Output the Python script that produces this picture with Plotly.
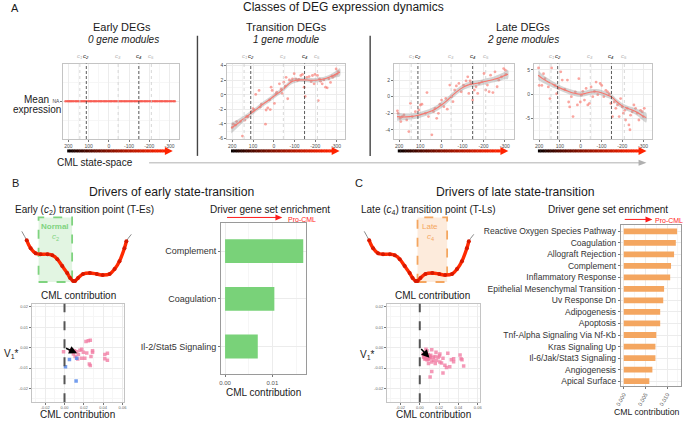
import plotly.graph_objects as go

W, H = 685, 422
FONT = "Liberation Sans, Arial, Helvetica, sans-serif"


def fx(px):
    return px / W


def fy(py):
    return 1 - py / H


# ---------------- Panel A data ----------------
a_xticks = [200, 100, 0, -100, -200, -300]
a_xtick_text = ["200", "100", "0", "-100", "-200", "-300"]
c_pos = [143, 111, -46, -148, -210]
c_names = ["c<sub>1</sub>", "c<sub>2</sub>", "c<sub>3</sub>", "c<sub>4</sub>", "c<sub>5</sub>"]
c_major = [False, True, False, True, False]

early_x = [214, 205, 197, 190, 183, 175, 165, 158, 150, 140, 133, 125, 118, 110, 100, 92, 85, 75,
           68, 60, 50, 42, 35, 25, 18, 10, 0, -8, -15, -25, -32, -40, -50, -58, -65, -75, -82,
           -90, -100, -108, -115, -125, -132, -140, -150, -158, -165, -175, -182, -190, -200,
           -208, -215, -225, -232, -240, -250, -258, -265, -275, -282, -290, -300, -308, -318, -326]
early_y = [0] * len(early_x)

trans_x = [200, 195, 179, 160, 151, 140, 124, 108, 100, 87, 71, 65, 40, 37, 29, 17, 13, 8, -3, -14,
           -27, -35, -40, -48, -59, -67, -75, -90, -98, -106, -114, -130, -138, -146, -151, -159,
           -170, -186, -194, -198, -210, -214, -225, -233, -241, -249, -257, -265, -273, -284,
           -294, -300, -305, 185, 130, 95, 60, 20, -10, -55, -85, -120, -180, -220, -280, -310]
trans_y = [-4.5, -4.05, -3.7, -3.7, -5.7, -3.5, -3.05, -2.3, -1.9, 0.05, 0.6, -1.7, -4.05, -2.1,
           -1.8, -2.05, 1.05, 0.6, -1.2, 0.36, 1.5, 0.8, 0.2, 1.73, 2.4, -0.55, 2.05, 2.2, 2.9,
           2.2, 1.95, 2.65, 2.8, 1.05, -0.23, 2.4, 2.5, 2.65, 1.5, 2.8, 2.65, -0.8, 1.85, 1.5,
           2.05, 1.05, 0.95, 2.2, 1.7, 2.4, 2.65, 3.55, 2.85, -4.2, -3.0, -2.1, -1.3, -0.7, 0.1,
           1.2, 1.9, 2.1, 1.8, 2.2, 2.6, 3.2]
trans_fit_x = [205, 175, 150, 125, 100, 75, 50, 25, 0, -25, -50, -70, -90, -110, -130, -150, -175,
               -200, -225, -250, -275, -300, -318]
trans_fit_y = [-4.6, -4.0, -3.4, -2.9, -2.35, -1.8, -1.25, -0.75, -0.2, 0.3, 0.9, 1.45, 1.85, 2.0,
               2.05, 2.05, 2.0, 2.0, 2.1, 2.25, 2.5, 2.85, 3.1]
trans_fit_se = [0.75, 0.55, 0.45, 0.4, 0.35, 0.35, 0.35, 0.35, 0.35, 0.35, 0.35, 0.35, 0.35, 0.3,
                0.3, 0.3, 0.3, 0.3, 0.3, 0.3, 0.35, 0.45, 0.55]

late1_x = [208, 205, 195, 192, 185, 177, 164, 154, 146, 138, 123, 107, 99, 92, 76, 68, 61, 45, 37,
           30, 22, 14, 7, -1, -12, -21, -28, -40, -48, -55, -63, -71, -83, -94, -105, -117, -125,
           -130, -136, -140, -148, -156, -164, -172, -179, -192, -202, -210, -218, -226, -233,
           -244, -254, -264, -272, -285, -295, -303, -306]
late1_y = [-1.7, -2.0, -2.6, -3.0, -2.4, -2.2, -2.8, -4.2, -0.8, -2.4, -1.8, -1.6, -1.0, -0.9,
           -2.0, 0.5, -2.4, -4.6, -1.8, -1.4, -2.6, -2.0, -0.9, -0.4, -1.2, -0.2, -1.5, 1.4, 0.0,
           -0.6, 0.8, 1.3, 1.6, 0.6, 1.4, 1.9, 2.4, 0.4, 1.9, 1.6, -0.4, 0.8, 1.2, 0.4, 1.6, 1.8,
           2.8, 0.8, 1.4, 0.6, 2.6, 0.5, 3.0, 1.2, 2.0, 2.4, 3.4, 3.2, 2.7]
late1_fit_x = [210, 180, 150, 120, 90, 60, 30, 0, -25, -50, -75, -100, -125, -150, -175, -200,
               -225, -250, -275, -300, -315]
late1_fit_y = [-2.4, -2.45, -2.4, -2.3, -2.1, -1.85, -1.5, -1.0, -0.5, 0.1, 0.65, 1.1, 1.4, 1.55,
               1.65, 1.8, 1.95, 2.1, 2.3, 2.55, 2.7]
late1_fit_se = [0.5, 0.4, 0.35, 0.35, 0.35, 0.35, 0.35, 0.35, 0.35, 0.35, 0.35, 0.35, 0.35, 0.35,
                0.35, 0.35, 0.35, 0.35, 0.4, 0.45, 0.55]

late2_x = [203, 200, 187, 179, 172, 156, 148, 140, 124, 116, 108, 96, 89, 77, 64, 58, 53, 45, 37,
           26, 16, 9, 2, -3, -10, -18, -26, -34, -42, -50, -58, -66, -74, -82, -94, -101, -111,
           -121, -129, -137, -145, -153, -161, -169, -177, -185, -192, -200, -206, -212, -216,
           -224, -232, -237, -240, -248, -256, -264, -272, -280, -288, -296, -301, -306]
late2_y = [5.4, 1.8, 1.8, 4.2, 3.2, 1.5, -0.9, 5.4, 1.8, 0.1, 1.2, 4.6, 2.9, 1.0, 2.9, -1.6, -2.6,
           -0.5, -4.6, 0.5, -2.2, 3.2, -1.6, -0.2, 0.6, -1.2, 1.2, -2.2, -1.9, 1.5, -0.5, 0.6, 2.5,
           -0.1, 2.2, 1.8, -0.5, 0.8, 0.5, 0.1, -1.9, -4.6, -1.6, -2.9, -2.2, -4.6, -0.9, -2.6,
           -3.9, -3.3, -5.3, -2.9, -6.3, -7.3, -4.3, -3.6, -2.2, -2.9, -3.9, -5.3, -3.3, -3.6,
           -4.6, -2.9]
late2_fit_x = [205, 180, 150, 120, 90, 60, 30, 0, -25, -50, -75, -100, -125, -150, -175, -200,
               -225, -250, -275, -300, -315]
late2_fit_y = [3.9, 3.1, 2.4, 1.7, 1.1, 0.6, 0.2, 0.0, 0.2, 0.45, 0.5, 0.3, -0.1, -0.6, -1.6, -2.4,
               -2.9, -3.3, -3.8, -4.5, -4.8]
late2_fit_se = [1.0, 0.8, 0.7, 0.6, 0.55, 0.55, 0.55, 0.55, 0.55, 0.55, 0.55, 0.55, 0.55, 0.55,
                0.55, 0.55, 0.55, 0.6, 0.7, 0.9, 1.0]

# ---------------- Panel B / C data ----------------
b_cats = ["Complement", "Coagulation", "Il-2/Stat5 Signaling"]
b_vals = [0.0165, 0.0104, 0.0069]

c_cats = ["Reactive Oxygen Species Pathway", "Coagulation", "Allograft Rejection", "Complement",
          "Inflammatory Response", "Epithelial Mesenchymal Transition", "Uv Response Dn",
          "Adipogenesis", "Apoptosis", "Tnf-Alpha Signaling Via Nf-Kb", "Kras Signaling Up",
          "Il-6/Jak/Stat3 Signaling", "Angiogenesis", "Apical Surface"]
c_vals = [0.0123, 0.0120, 0.0116, 0.0109, 0.0107, 0.0093, 0.0091, 0.0084, 0.0084, 0.0075, 0.0073,
          0.0073, 0.0066, 0.0059]

sb_pink_x = [0.0222, 0.0246, 0.0267, 0.0075, 0.0103, 0.0126, 0.016, 0.0178, 0.0195, 0.023, 0.029,
             0.029, -0.001, 0.0144, 0.0178, 0.021, 0.0137, 0.0274, 0.0257, 0.0267, 0.0417, 0.0444,
             0.0417, 0.0444, 0.0058, 0.0092, 0.011]
sb_pink_y = [0.003, 0.0033, 0.0036, -0.0011, -0.0016, -0.002, -0.0013, -0.0008, -0.0023, -0.0027,
             -0.0016, -0.0023, -0.002, -0.0034, -0.0052, -0.0052, -0.0056, -0.0044, -0.0081,
             -0.0088, -0.0034, -0.0028, -0.0055, -0.0062, -0.0016, -0.0031, -0.0044]
sb_blue_x = [0.0051, 0.001, 0.0126, 0.012]
sb_blue_y = [-0.0059, -0.0094, -0.0052, -0.0164]
sb_arrow = [0.013, -0.0028]

sc_pink_x = [0.0064, 0.0124, 0.0168, 0.0208, 0.029, 0.019, 0.024, 0.014, 0.009, 0.016, 0.0225,
             0.026, 0.0276, 0.024, 0.0124, 0.0107, 0.035, 0.035, 0.031, 0.0417, 0.0427, 0.0437,
             0.0454, 0.0034, 0.0047, 0.0057, 0.0067, 0.0081, 0.0091, 0.0101, 0.0108, 0.005, 0.0074,
             0.006, 0.0114, 0.004, 0.0087, 0.0124, 0.0175, 0.0202, 0.0141, 0.0074, 0.0158, 0.0208,
             0.0326, 0.0045, 0.0062, 0.0078, 0.0095, 0.0055, 0.0085, 0.0068, 0.0105]
sc_pink_y = [-0.0008, -0.0011, -0.0023, -0.0031, -0.0028, -0.0047, -0.0052, -0.0062, -0.0078,
             -0.0078, -0.0075, -0.0086, -0.0098, -0.0125, -0.0117, -0.0144, -0.0055, -0.007,
             -0.0094, -0.0036, -0.0055, -0.006, -0.009, -0.0032, -0.004, -0.0048, -0.0052,
             -0.0044, -0.0056, -0.0041, -0.0051, -0.0056, -0.006, -0.0035, -0.0038, -0.0048,
             -0.0035, -0.0071, -0.0063, -0.0041, -0.0048, -0.0016, -0.0044, -0.0071, -0.006,
             -0.0043, -0.0055, -0.0047, -0.0049, -0.0037, -0.0058, -0.0041, -0.0046]
sc_arrow = [0.010, -0.005]

sc_xticks = [-0.02, 0.0, 0.02, 0.04, 0.06]
sc_xtick_text = ["-0.02", "0.00", "0.02", "0.04", "0.06"]
sc_yticks = [-0.02, -0.01, 0.0, 0.01, 0.02]
sc_ytick_text = ["-0.02", "-0.01", "0.00", "0.01", "0.02"]

# schematic potential landscape
land_x = [16, 21, 25, 30, 35, 42, 47, 52, 57, 62, 65, 68, 70, 73, 78, 85, 92, 98, 105, 110, 115,
          120, 122, 127]
land_y = [232, 241, 249, 254, 255, 255, 256, 260, 267, 274, 279, 282, 282, 279, 275, 274, 275,
          276, 275, 270, 262, 249, 242, 235]

GREEN = "#79d279"
ORANGE = "#f4a660"
PINK = "rgba(240,120,160,0.75)"
BLUE = "rgba(90,140,235,0.85)"
SALMON = "#f8766d"

fig = go.Figure()
layout = {}
shapes = []
annotations = []

GRID = "#ececec"
MINOR = "#f6f6f6"
BORDER = "#c4c4c4"


def ax_common():
    return dict(showline=True, mirror=True, linecolor=BORDER, linewidth=0.8, zeroline=False,
                ticks="outside", ticklen=2, tickwidth=0.5, tickcolor="#777",
                showgrid=True, gridcolor=GRID, gridwidth=0.7)


def key(n, a):
    return a + ("axis" if n == 1 else f"axis{n}")


def ref(n, a):
    return a + ("" if n == 1 else str(n))


# ---------------- Panel A ----------------
a_specs = [
    (1, (58, 175), None, [-1, 1], [0], ["NA"], [-0.5, 0.5]),
    (2, (224, 344), (trans_x, trans_y, trans_fit_x, trans_fit_y, trans_fit_se), [-6.1, 4.3],
     [4, 2, 0, -2, -4, -6], ["4", "2", "0", "-2", "-4", "-6"], [3, 1, -1, -3, -5]),
    (3, (393, 515), (late1_x, late1_y, late1_fit_x, late1_fit_y, late1_fit_se), [-5.1, 4.0],
     [2, 0, -2, -4], ["2", "0", "-2", "-4"], [3, 1, -1, -3, -5]),
    (4, (535, 655), (late2_x, late2_y, late2_fit_x, late2_fit_y, late2_fit_se), [-9.2, 6.3],
     [5, 0, -5], ["5", "0", "-5"], [2.5, -2.5, -7.5]),
]
for n, (l, r), d, yr, ytv, ytt, yminor in a_specs:
    xa = ax_common()
    xa.update(domain=[fx(l), fx(r)], range=[225, -345], anchor=ref(n, "y"), tickvals=a_xticks,
              ticktext=a_xtick_text, tickfont=dict(size=5, color="#4d4d4d"),
              minor=dict(tickvals=[150, 50, -50, -150, -250], showgrid=True, gridcolor=MINOR))
    ya = ax_common()
    ya.update(domain=[fy(139), fy(63)], range=yr, anchor=ref(n, "x"), tickvals=ytv, ticktext=ytt,
              tickfont=dict(size=5, color="#4d4d4d"),
              minor=dict(tickvals=yminor, showgrid=True, gridcolor=MINOR))
    layout[key(n, "x")] = xa
    layout[key(n, "y")] = ya
    xr, yrf = ref(n, "x"), ref(n, "y")
    if d is None:
        fig.add_trace(go.Scatter(x=early_x, y=early_y, mode="lines+markers", xaxis=xr, yaxis=yrf,
                                 line=dict(color=SALMON, width=1.4),
                                 marker=dict(size=2.5, color="rgba(248,90,80,0.8)"),
                                 showlegend=False, hoverinfo="skip"))
    else:
        px_, py_, fx_, fy_, se_ = d
        fig.add_trace(go.Scatter(x=px_, y=py_, mode="markers", xaxis=xr, yaxis=yrf,
                                 marker=dict(size=2.8, color="rgba(248,118,109,0.65)"),
                                 showlegend=False, hoverinfo="skip"))
        upper = [a + b for a, b in zip(fy_, se_)]
        lower = [a - b for a, b in zip(fy_, se_)]
        fig.add_trace(go.Scatter(x=fx_ + fx_[::-1], y=upper + lower[::-1], mode="lines",
                                 fill="toself", fillcolor="rgba(150,150,150,0.4)",
                                 line=dict(width=0, shape="spline"), xaxis=xr, yaxis=yrf,
                                 showlegend=False, hoverinfo="skip"))
        fig.add_trace(go.Scatter(x=fx_, y=fy_, mode="lines", xaxis=xr, yaxis=yrf,
                                 line=dict(color=SALMON, width=1.1, shape="spline"),
                                 showlegend=False, hoverinfo="skip"))
    # transition point lines and labels
    for cp, cn, major in zip(c_pos, c_names, c_major):
        shapes.append(dict(type="line", xref=xr, yref=yrf + " domain", x0=cp, x1=cp, y0=0, y1=1,
                           line=dict(color="#333333" if major else "#cdcdcd", width=0.8,
                                     dash="3px,2px" if major else "dot")))
        annotations.append(dict(x=cp, y=fy(61), xref=xr, yref="paper", text=f"<i>{cn}</i>",
                                showarrow=False, yanchor="bottom",
                                font=dict(size=6, color="#111111" if major else "#b0b0b0")))
    # gradient arrow under panel
    x0p, x1p = l + 4, r - 6
    nseg = 40
    head = 8
    xe = x1p - head
    for i in range(nseg):
        t = (i + 0.5) / nseg
        tt = t ** 0.75
        col = f"rgb({int(255 * tt)},{int(35 * tt)},0)"
        a0 = x0p + (xe - x0p) * i / nseg
        a1 = x0p + (xe - x0p) * (i + 1) / nseg + 0.4
        shapes.append(dict(type="line", xref="paper", yref="paper", x0=fx(a0), x1=fx(a1),
                           y0=fy(151), y1=fy(151), line=dict(color=col, width=3)))
    shapes.append(dict(type="path", xref="paper", yref="paper",
                       path=f"M {fx(xe)},{fy(147)} L {fx(x1p)},{fy(151)} L {fx(xe)},{fy(155)} Z",
                       fillcolor="rgb(255,35,0)", line=dict(width=0)))

# separators and state-space arrow
for sx in (194, 369):
    shapes.append(dict(type="line", xref="paper", yref="paper", x0=fx(sx), x1=fx(sx),
                       y0=fy(35), y1=fy(156), line=dict(color="#444444", width=1.4)))
shapes.append(dict(type="line", xref="paper", yref="paper", x0=fx(145), x1=fx(642),
                   y0=fy(163), y1=fy(163), line=dict(color="#b0b0b0", width=1)))
shapes.append(dict(type="path", xref="paper", yref="paper",
                   path=f"M {fx(641)},{fy(160)} L {fx(649)},{fy(163)} L {fx(641)},{fy(166)} Z",
                   fillcolor="#b0b0b0", line=dict(width=0)))

# ---------------- Landscapes (B: 7, C: 10) ----------------
for n, (l, r) in ((7, (10, 130)), (10, (357, 477))):
    layout[key(n, "x")] = dict(domain=[fx(l), fx(r)], range=[10, 130], visible=False,
                               anchor=ref(n, "y"))
    layout[key(n, "y")] = dict(domain=[fy(292), fy(214)], range=[292, 214], visible=False,
                               anchor=ref(n, "x"))
    xr, yrf = ref(n, "x"), ref(n, "y")
    fig.add_trace(go.Scatter(x=land_x, y=land_y, mode="lines", xaxis=xr, yaxis=yrf,
                             line=dict(color="#8a8a8a", width=1, shape="spline"),
                             showlegend=False, hoverinfo="skip"))
    fig.add_trace(go.Scatter(x=land_x[1:-1], y=land_y[1:-1], mode="lines+markers", xaxis=xr,
                             yaxis=yrf, line=dict(color="#ff2a00", width=3.4, shape="spline"),
                             marker=dict(size=4, color="#d81800"),
                             showlegend=False, hoverinfo="skip"))

shapes.append(dict(type="rect", xref="paper", yref="paper", x0=fx(33), x1=fx(67), y0=fy(283),
                   y1=fy(218), fillcolor="rgba(121,210,121,0.22)", layer="below",
                   line=dict(color="#7fd37f", width=1.8, dash="dash")))
shapes.append(dict(type="rect", xref="paper", yref="paper", x0=fx(417), x1=fx(447), y0=fy(283),
                   y1=fy(218), fillcolor="rgba(244,166,96,0.22)", layer="below",
                   line=dict(color="#f4a660", width=1.8, dash="dash")))

# ---------------- Scatter plots (B: 5, C: 8) ----------------
for n, (l, r), pinkx, pinky, arrow in ((5, (26, 120), sb_pink_x, sb_pink_y, sb_arrow),
                                        (8, (386, 480), sc_pink_x, sc_pink_y, sc_arrow)):
    xa = ax_common()
    xa.update(domain=[fx(l), fx(r)], range=[-0.034, 0.062], anchor=ref(n, "y"),
              tickvals=sc_xticks, ticktext=sc_xtick_text, tickfont=dict(size=4, color="#666"),
              ticklen=1.5,
              minor=dict(tickvals=[-0.03, -0.01, 0.01, 0.03, 0.05], showgrid=True,
                         gridcolor=MINOR))
    ya = ax_common()
    ya.update(domain=[fy(404), fy(305)], range=[-0.0267, 0.0214], anchor=ref(n, "x"),
              tickvals=sc_yticks, ticktext=sc_ytick_text, tickfont=dict(size=4, color="#666"),
              minor=dict(tickvals=[-0.025, -0.015, -0.005, 0.005, 0.015], showgrid=True,
                         gridcolor=MINOR))
    layout[key(n, "x")] = xa
    layout[key(n, "y")] = ya
    xr, yrf = ref(n, "x"), ref(n, "y")
    fig.add_trace(go.Scatter(x=pinkx, y=pinky, mode="markers", xaxis=xr, yaxis=yrf,
                             marker=dict(size=3.5, color=PINK, symbol="square"),
                             showlegend=False, hoverinfo="skip"))
    if n == 5:
        fig.add_trace(go.Scatter(x=sb_blue_x, y=sb_blue_y, mode="markers", xaxis=xr, yaxis=yrf,
                                 marker=dict(size=3.5, color=BLUE, symbol="square"),
                                 showlegend=False, hoverinfo="skip"))
    shapes.append(dict(type="line", xref=xr, yref=yrf + " domain", x0=0, x1=0, y0=0, y1=1,
                       line=dict(color="#555555", width=2, dash="dash")))
    annotations.append(dict(x=arrow[0], y=arrow[1], xref=xr, yref=yrf, ax=0, ay=0,
                            axref=xr, ayref=yrf, showarrow=True, arrowhead=2, arrowsize=1,
                            arrowwidth=1.6, arrowcolor="#000000", text=""))

# ---------------- Bar charts (B: 6, C: 9) ----------------
xa = ax_common()
xa.update(domain=[fx(218), fx(304)], range=[-0.00083, 0.01708], anchor="y6", tickvals=[0, 0.01],
          ticktext=["0.00", "0.01"], tickfont=dict(size=6, color="#555"), linecolor="#9a9a9a",
          linewidth=1, minor=dict(tickvals=[0.005, 0.015], showgrid=True, gridcolor=MINOR))
ya = ax_common()
ya.update(domain=[fy(376), fy(224)], type="category", categoryorder="array",
          categoryarray=b_cats, range=[2.583, -0.583], anchor="x6",
          tickfont=dict(size=9, color="#333"), linecolor="#9a9a9a", linewidth=1)
layout["xaxis6"] = xa
layout["yaxis6"] = ya
fig.add_trace(go.Bar(x=b_vals, y=b_cats, orientation="h", xaxis="x6", yaxis="y6", width=0.5,
                     marker=dict(color=GREEN, line=dict(width=0)), showlegend=False,
                     hoverinfo="skip"))

xa = ax_common()
xa.update(domain=[fx(623), fx(684)], range=[-0.00068, 0.0132], anchor="y9",
          tickvals=[0, 0.005, 0.01], ticktext=["0.000", "0.005", "0.010"], tickangle=-60,
          tickfont=dict(size=5.5, color="#555"), linecolor="#9a9a9a", linewidth=1,
          minor=dict(tickvals=[0.0025, 0.0075, 0.0125], showgrid=True, gridcolor=MINOR))
ya = ax_common()
ya.update(domain=[fy(388), fy(226)], type="category", categoryorder="array",
          categoryarray=c_cats, range=[13.45, -0.52], anchor="x9",
          tickfont=dict(size=8.5, color="#333"), linecolor="#9a9a9a", linewidth=1)
layout["xaxis9"] = xa
layout["yaxis9"] = ya
fig.add_trace(go.Bar(x=c_vals, y=c_cats, orientation="h", xaxis="x9", yaxis="y9", width=0.5,
                     marker=dict(color=ORANGE, line=dict(width=0)), showlegend=False,
                     hoverinfo="skip"))

# Pro-CML arrows
for (x0p, x1p, yp) in ((224, 280, 218), (627, 655, 220)):
    shapes.append(dict(type="line", xref="paper", yref="paper", x0=fx(x0p), x1=fx(x1p - 6),
                       y0=fy(yp), y1=fy(yp), line=dict(color="#ff1a1a", width=1)))
    shapes.append(dict(type="path", xref="paper", yref="paper",
                       path=f"M {fx(x1p - 7)},{fy(yp - 3)} L {fx(x1p)},{fy(yp)} "
                            f"L {fx(x1p - 7)},{fy(yp + 3)} Z",
                       fillcolor="#ff1a1a", line=dict(width=0)))


# ---------------- Text ----------------
def txt(x, y, s, size, color="#1a1a1a", anchor="center"):
    annotations.append(dict(x=fx(x), y=fy(y), xref="paper", yref="paper", text=s,
                            showarrow=False, xanchor=anchor, yanchor="middle",
                            font=dict(size=size, color=color, family=FONT)))


txt(3, 7.5, "A", 11, anchor="left")
txt(342, 6.5, "Classes of DEG expression dynamics", 12)
txt(118, 26.5, "Early DEGs", 11)
txt(119, 38.5, "<i>0 gene modules</i>", 10)
txt(284, 26.5, "Transition DEGs", 11)
txt(284, 38.5, "<i>1 gene module</i>", 10)
txt(524, 26.5, "Late DEGs", 11)
txt(524, 38.5, "<i>2 gene modules</i>", 10)
txt(31, 99, "Mean", 10)
txt(31, 109.5, "expression", 10)
txt(90.5, 163, "CML state-space", 10)

txt(4, 183, "B", 11, anchor="left")
txt(352, 183, "C", 11, anchor="left")
txt(168, 192.5, "Drivers of early state-transition", 12.2)
txt(516, 192.5, "Drivers of late state-transition", 12.2)
txt(80, 210, "Early (<i>c</i><sub>2</sub>) transition point (T-Es)", 10)
txt(428, 210, "Late (<i>c</i><sub>4</sub>) transition point (T-Ls)", 10)
txt(268, 210, "Driver gene set enrichment", 10)
txt(610, 210, "Driver gene set enrichment", 10)
txt(284, 220, "Pro-CML", 7, color="#ff1a1a", anchor="left")
txt(656, 221, "Pro-CML", 7, color="#ff1a1a", anchor="left")
txt(50, 227, "<b>Normal</b>", 8, color="#7fd37f")
txt(50, 238, "<i>c</i><sub>2</sub>", 8, color="#7fd37f")
txt(430, 227, "Late", 8, color="#f4a660")
txt(430, 238, "<i>c</i><sub>4</sub>", 8, color="#f4a660")
txt(73, 297, "CML contribution", 10)
txt(432, 297, "CML contribution", 10)
txt(72.5, 416.5, "CML contribution", 10)
txt(433, 416.5, "CML contribution", 10)
txt(261, 394, "CML contribution", 10)
txt(650, 414, "CML contribution", 8.7)
txt(6, 356, "V<sub>1</sub>*", 10)
txt(366, 357, "V<sub>1</sub>*", 10)

layout.update(dict(width=W, height=H, autosize=False, margin=dict(l=0, r=0, t=0, b=0, pad=0),
                   paper_bgcolor="white", plot_bgcolor="rgba(0,0,0,0)",
                   font=dict(family=FONT, color="#1a1a1a"), showlegend=False,
                   shapes=shapes, annotations=annotations, bargap=0.5))
fig.update_layout(**layout)

fig.write_html("out.html", config={"displayModeBar": False},
               post_script="document.body.style.margin='0';")
